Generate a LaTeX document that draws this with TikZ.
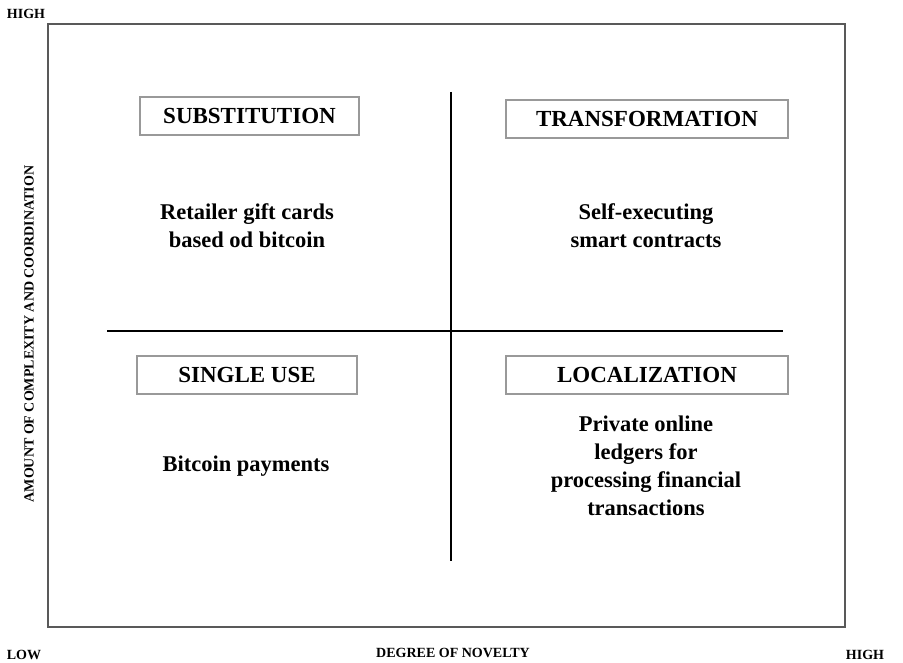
\documentclass[tikz,border=0pt]{standalone}
\usepackage{fontspec}
\setmainfont{Liberation Serif}
\begin{document}
\begin{tikzpicture}[x=1pt,y=-1pt,
  framebox/.style={draw=black!65, line width=1.6pt},
  divider/.style={draw=black, line width=1.2pt},
  titlebox/.style={draw=black!40, line width=1.3pt, fill=white, inner sep=0pt, font=\fontsize{23}{23}\selectfont\bfseries, anchor=center},
  bodytext/.style={align=center, font=\fontsize{22.5}{28}\selectfont\bfseries, inner sep=0pt},
  axislabel/.style={font=\fontsize{14}{14}\selectfont\bfseries, inner sep=0pt}]
\useasboundingbox (0,0) rectangle (903,663);
% frame
\draw[framebox] (48,24) rectangle (845,627);
% dividers
\coordinate (vtop) at (451,92);
\coordinate (vbot) at (451,561);
\coordinate (hleft) at (107,331);
\coordinate (hright) at (783,331);
\draw[divider] (vtop) -- (vbot);
\draw[divider] (hleft) -- (hright);
% title boxes
\node[titlebox, minimum width=219pt, minimum height=38pt] (subst) at (249.5,116) {SUBSTITUTION};
\node[titlebox, minimum width=282pt, minimum height=38pt] (trans) at (647,119) {TRANSFORMATION};
\node[titlebox, minimum width=220pt, minimum height=38pt] (single) at (247,375) {SINGLE USE};
\node[titlebox, minimum width=282pt, minimum height=38pt] (local) at (647,375) {LOCALIZATION};
% body texts
\node[bodytext] (substtxt) at (247,226) {Retailer gift cards\\based od bitcoin};
\node[bodytext] (transtxt) at (646,226) {Self-executing\\smart contracts};
\node[bodytext] (singletxt) at (246,466) {Bitcoin payments};
\node[bodytext] (localtxt) at (646,466) {Private online\\ledgers for\\processing financial\\transactions};
% axis labels
\node[axislabel] (yhigh) at (26,14) {HIGH};
\node[axislabel] (ylow) at (24,655) {LOW};
\node[axislabel] (xlabel) at (453,653) {DEGREE OF NOVELTY};
\node[axislabel] (xhigh) at (865,655) {HIGH};
\node[axislabel, rotate=90] (ylabel) at (29,334) {AMOUNT OF COMPLEXITY AND COORDINATION};
\end{tikzpicture}
\end{document}
